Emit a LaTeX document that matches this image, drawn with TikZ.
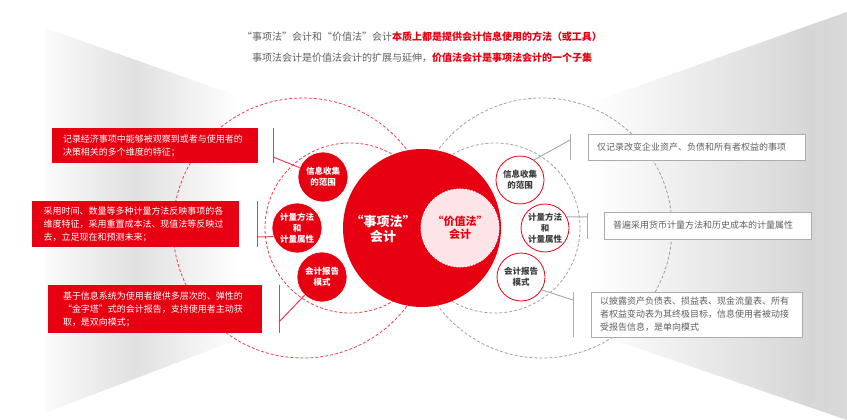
\documentclass[tikz,border=0pt]{standalone}
\usepackage{fontspec}
\setmainfont{Noto Sans CJK SC}[RawFeature=+fwid]
\usetikzlibrary{positioning}
\definecolor{hsred}{RGB}{230,0,18}
\definecolor{hsline}{RGB}{233,62,76}
\definecolor{hspink}{RGB}{253,228,230}
\definecolor{txtgray}{RGB}{95,95,95}
\definecolor{txtdark}{RGB}{60,60,60}

\begin{document}
\begin{tikzpicture}[
  x=1pt, y=-1pt,
  lbox/.style={rectangle, fill=hsred, text=white, text width=184pt, align=left,
               inner xsep=11pt, inner ysep=0pt, font=\fontsize{9}{13}\selectfont},
  rbox/.style={rectangle, draw=gray!65, fill=white, line width=0.8pt, text=txtgray, align=left,
               inner xsep=9pt, inner ysep=0pt, font=\fontsize{9}{13}\selectfont},
  lcirc/.style={circle, fill=hsred, draw=white, line width=0.6pt, minimum size=50pt, inner sep=0pt,
                text=white, align=center, font=\bfseries\fontsize{8.5}{11}\selectfont},
  rcirc/.style={circle, fill=white, draw=hsred, line width=0.8pt, minimum size=48pt, inner sep=0pt,
                text=txtdark, align=center, font=\bfseries\fontsize{8.5}{11}\selectfont},
  reddash/.style={draw=hsline, line width=0.8pt, dash pattern=on 3pt off 2pt},
  graydash/.style={draw=gray!75, line width=0.8pt, dash pattern=on 3pt off 2pt},
  lbrk/.style={draw=hsline, line width=1pt},
  rbrk/.style={draw=gray!65, line width=1pt},
  titletxt/.style={text=txtgray, font=\fontsize{10}{12}\selectfont},
]

\useasboundingbox (0,0) rectangle (847,420);

\begin{scope}
  \clip (45,28) -- (420,160) -- (420,270) -- (45,413) -- cycle;
  \shade[left color=white, right color=white, middle color=gray!24] (30,20) rectangle (240,420);
\end{scope}
\begin{scope}
  \clip (422,163) -- (810,25) -- (847,12) -- (847,420) -- (422,274) -- cycle;
  \shade[left color=white, right color=gray!20, middle color=gray!32] (590,0) rectangle (1030,420);
\end{scope}

\draw[reddash] (303,228) circle (130pt);
\draw[graydash] (542,228) circle (130pt);

\node[lbox, minimum height=35pt] (lboxscope) at (155,145.5)
  {记录经济事项中能够被观察到或者与使用者的\\决策相关的多个维度的特征；};
\node[lbox, minimum height=46pt, inner xsep=11.5pt] (lboxmeasure) at (135.5,224)
  {采用时间、数量等多种计量方法反映事项的各\\维度特征，采用重置成本法、现值法等反映过\\去，立足现在和预测未来；};
\node[lbox, minimum height=48pt, inner xsep=15pt] (lboxreport) at (155,309)
  {基于信息系统为使用者提供多层次的、弹性的\\“金字塔”式的会计报告，支持使用者主动获\\取，是双向模式；};

\node[rbox, text width=199pt, minimum height=26pt] (rboxscope) at (696.5,147)
  {仅记录改变企业资产、负债和所有者权益的事项};
\node[rbox, text width=189pt, minimum height=27pt] (rboxmeasure) at (707.5,225.5)
  {普遍采用货币计量方法和历史成本的计量属性};
\node[rbox, text width=193pt, minimum height=45pt] (rboxreport) at (696.5,314.5)
  {以披露资产负债表、损益表、现金流量表、所有\\者权益变动表为其终极目标，信息使用者被动接\\受报告信息，是单向模式};

\draw[reddash] (350,228) circle (85pt);
\draw[graydash] (495,228) circle (85pt);

\node[circle, fill=hsred, minimum size=158pt, inner sep=0pt] (shixiang) at (422,228) {};
\node[text=white, align=center, font=\bfseries\fontsize{13}{15}\selectfont] (shixianglbl) at (383,229.5)
  {“事项法”\\会计};
\node[circle, fill=hspink, draw=white, dash pattern=on 2pt off 1pt, line width=0.8pt,
      minimum size=78pt, inner sep=0pt, text=hsred, align=center,
      font=\bfseries\fontsize{11}{13}\selectfont] (jiazhi) at (460,228) {“价值法”\\会计};

\node[lcirc] (lscope)   at (323,177) {信息收集\\的范围};
\node[lcirc] (lmeasure) at (297,228) {计量方法\\和\\计量属性};
\node[lcirc] (lreport)  at (322,277) {会计报告\\模式};

\node[rcirc] (rscope)   at (520,180) {信息收集\\的范围};
\node[rcirc] (rmeasure) at (545,228) {计量方法\\和\\计量属性};
\node[rcirc] (rreport)  at (521,277) {会计报告\\模式};

\coordinate (lb1a) at (273,128); \coordinate (lb1b) at (273,163); \coordinate (lb1m) at (273,157);
\coordinate (lb2a) at (257,201); \coordinate (lb2b) at (257,247); \coordinate (lb2m) at (257,237);
\coordinate (lb3a) at (279,285); \coordinate (lb3b) at (279,333); \coordinate (lb3m) at (279,322);
\coordinate (rb1a) at (570,134); \coordinate (rb1b) at (570,160); \coordinate (rb1m) at (570,140);
\coordinate (rb2a) at (587,213); \coordinate (rb2b) at (587,239); \coordinate (rb2m) at (587,217);
\coordinate (rb3a) at (573,292); \coordinate (rb3b) at (573,337); \coordinate (rb3m) at (573,300);

\draw[lbrk] (lb1a) -- (lb1b);
\draw[lbrk] (lb1m) -- (lscope);
\draw[lbrk] (lb2a) -- (lb2b);
\draw[lbrk] (lb2m) -- (lmeasure.200);
\draw[lbrk] (lb3a) -- (lb3b);
\draw[lbrk] (lb3m) -- (lreport);

\draw[rbrk] (rb1a) -- (rb1b);
\draw[rbrk] (rscope.55) -- (rb1m);
\draw[rbrk] (rb2a) -- (rb2b);
\draw[rbrk] (rmeasure.27) -- (rb2m);
\draw[rbrk] (rb3a) -- (rb3b);
\draw[rbrk] (rreport.-32) -- (rb3m);

\node[titletxt] (title1) at (422,37)
  {“事项法”会计和“价值法”会计\textcolor{hsred}{\bfseries 本质上都是提供会计信息使用的方法（或工具）}};
\node[titletxt] (title2) at (422,58)
  {事项法会计是价值法会计的扩展与延伸，\textcolor{hsred}{\bfseries 价值法会计是事项法会计的一个子集}};

\end{tikzpicture}
\end{document}
